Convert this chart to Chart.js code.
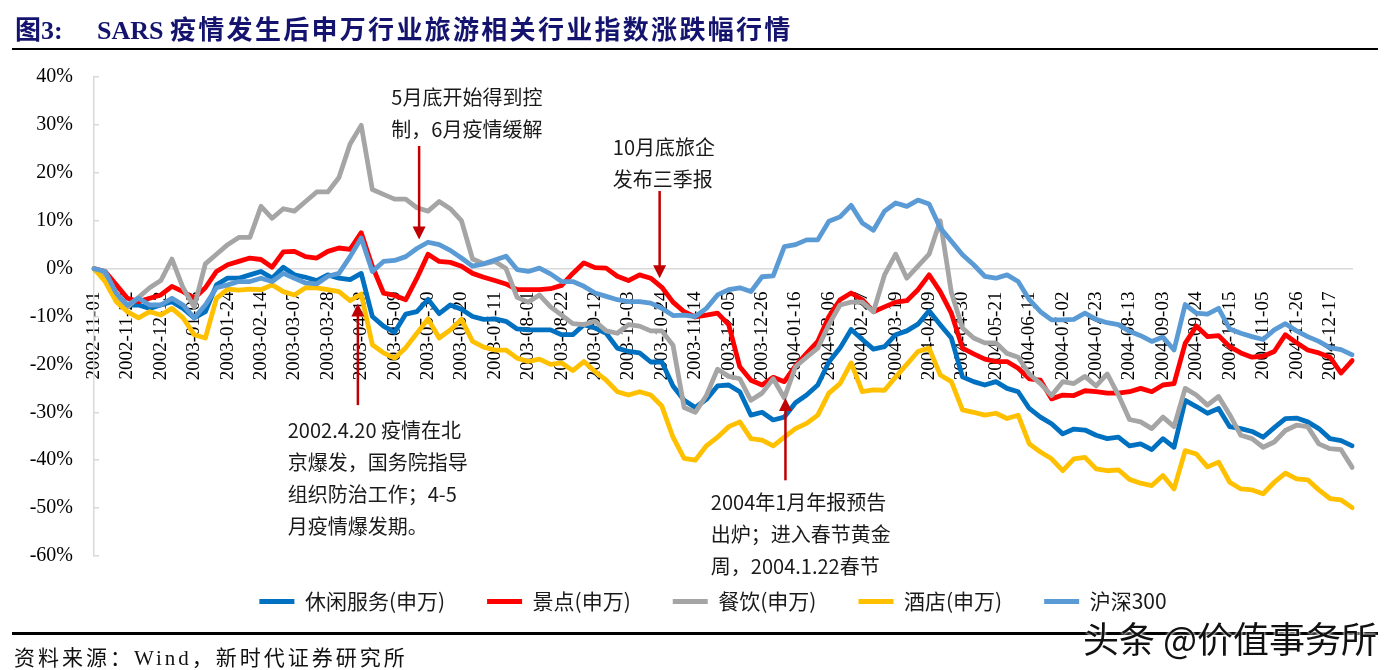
<!DOCTYPE html>
<html>
<head>
<meta charset="utf-8">
<script src="https://cdn.jsdelivr.net/npm/chart.js@4.4.1/dist/chart.umd.min.js"></script>
<style>
  body { margin: 0; width: 1390px; height: 670px; overflow: hidden; position: relative; background: #fff; }
  #c { position: absolute; left: 0; top: 0; }
  .rule { position: absolute; left: 12px; width: 1366px; background: #000; }
  #title { position: absolute; left: 15px; top: 14px; line-height: 34px; color: #14146e; font-weight: bold;
           font-family: "Liberation Serif", "Noto Sans CJK SC", serif; font-size: 26px; white-space: nowrap; }
  #title .t2 { position: absolute; left: 82px; top: 0; }
  #title .cjk { letter-spacing: 2.3px; }
  #src { position: absolute; left: 14px; top: 641px; font-family: "Liberation Serif", "Noto Sans CJK SC", serif;
         font-size: 21px; letter-spacing: 3px; color: #111; white-space: nowrap; }
  #wm { position: absolute; left: 1083px; top: 611px; font-family: "Noto Sans CJK SC", sans-serif; font-size: 36px;
        color: #111; white-space: nowrap; text-shadow: 0 0 3px #fff, 0 0 3px #fff; }
</style>
</head>
<body>
<canvas id="c" width="1390" height="670"></canvas>
<div id="title">图3:<span class="t2">SARS <span class="cjk">疫情发生后申万行业旅游相关行业指数涨跌幅行情</span></span></div>
<div class="rule" style="top:48px;height:2px"></div>
<div class="rule" style="top:632px;height:2.5px"></div>
<div id="src">资料来源：Wind，新时代证券研究所</div>
<div id="wm">头条 @价值事务所</div>
<script>
// weekly closes (Fridays), change vs 2002-11-01, %
const weeks = [
  '2002-11-01','2002-11-08','2002-11-15','2002-11-22','2002-11-29','2002-12-06','2002-12-13','2002-12-20','2002-12-27',
  '2003-01-03','2003-01-10','2003-01-17','2003-01-24','2003-01-31','2003-02-07','2003-02-14','2003-02-21','2003-02-28',
  '2003-03-07','2003-03-14','2003-03-21','2003-03-28','2003-04-04','2003-04-11','2003-04-18','2003-04-25','2003-05-02',
  '2003-05-09','2003-05-16','2003-05-23','2003-05-30','2003-06-06','2003-06-13','2003-06-20','2003-06-27','2003-07-04',
  '2003-07-11','2003-07-18','2003-07-25','2003-08-01','2003-08-08','2003-08-15','2003-08-22','2003-08-29','2003-09-05',
  '2003-09-12','2003-09-19','2003-09-26','2003-10-03','2003-10-10','2003-10-17','2003-10-24','2003-10-31','2003-11-07',
  '2003-11-14','2003-11-21','2003-11-28','2003-12-05','2003-12-12','2003-12-19','2003-12-26',
  '2004-01-02','2004-01-09','2004-01-16','2004-01-23','2004-01-30','2004-02-06','2004-02-13','2004-02-20','2004-02-27',
  '2004-03-05','2004-03-12','2004-03-19','2004-03-26','2004-04-02','2004-04-09','2004-04-16','2004-04-23','2004-04-30',
  '2004-05-07','2004-05-14','2004-05-21','2004-05-28','2004-06-04','2004-06-11','2004-06-18','2004-06-25','2004-07-02',
  '2004-07-09','2004-07-16','2004-07-23','2004-07-30','2004-08-06','2004-08-13','2004-08-20','2004-08-27','2004-09-03',
  '2004-09-10','2004-09-17','2004-09-24','2004-10-01','2004-10-08','2004-10-15','2004-10-22','2004-10-29','2004-11-05',
  '2004-11-12','2004-11-19','2004-11-26','2004-12-03','2004-12-10','2004-12-17','2004-12-24','2004-12-31'
];

const xiuxian = [
  0, -2, -6.2, -7.6, -7.6, -8.3, -7.6, -6.9, -8.3, -10.3,
  -9, -3.4, -2, -2, -1.3, -0.6, -2, 0.3, -1.3, -1.8,
  -2.5, -1.3, -2, -2.3, -1, -10, -12, -13.3, -9.5, -9,
  -6.4, -9.4, -7.6, -8.5, -10, -10.6, -10.5, -11, -12.6, -12.8,
  -12.8, -12.8, -13.8, -13.8, -11.7, -12.4, -13.5, -16.6, -17.3, -17.6,
  -19.5, -19.5, -24.5, -27.5, -29, -27.3, -24.5, -24.3, -25.7, -30.6,
  -30, -31.6, -31, -28, -26.4, -24.3, -19.5, -16.6, -12.7, -14.8,
  -16.8, -16.3, -13.8, -13, -11.6, -8.8, -11.7, -14.5, -22.6, -23.6,
  -24.3, -23.6, -25, -25.7, -29.2, -31, -32.4, -34.5, -33.5, -33.7,
  -34.8, -35.5, -35.2, -37, -36.6, -37.8, -35.5, -37.3, -27.5, -28.8,
  -30.2, -29.2, -33, -33.4, -34, -35.2, -33.2, -31.3, -31.2, -32,
  -33.4, -35.5, -35.9, -37
];
const jingdian = [
  0, -0.6, -3.4, -6.2, -6.9, -6.2, -5.5, -3.7, -4.8, -6.2,
  -4, -0.6, 0.8, 1.5, 2.2, 1.9, 0.3, 3.5, 3.6, 2.5,
  2.2, 3.6, 4.3, 4, 7.5, 0.5, -5.1, -5.6, -6.5, -2,
  3, 1.5, 1.3, 0.5, -1, -1.8, -2.5, -3.2, -4.4, -4.4,
  -4.4, -4.2, -3.5, -1, 1.2, 0.2, 0.1, -1.6, -2.5, -1.3,
  -2, -3.9, -7, -9, -10.1, -9.7, -9.3, -11.7, -20.5, -23.3,
  -24.3, -22.7, -23.6, -20.3, -17.7, -15.2, -10, -6.5, -5.1, -6.5,
  -9, -8, -7, -6.7, -4.4, -1.3, -4.8, -9.3, -16.6, -17.8,
  -18.9, -19.4, -19.4, -20.8, -23, -23.3, -27.2, -26.4, -26.5, -25.5,
  -25.7, -26, -26, -25.7, -25, -25.7, -24.3, -24, -15.6, -12,
  -14.2, -14, -16.3, -17.6, -18.5, -18.3, -17.3, -13.8, -15.5, -17,
  -17.6, -18.5, -21.8, -19.2
];
const canyin = [
  0, -1.5, -6, -8, -6, -4, -2.5, 2, -4, -8,
  1, 3, 5, 6.5, 6.5, 13, 10.5, 12.5, 12, 14,
  16, 16, 19, 26, 29.9, 16.5, 15.5, 14.5, 14.5, 12.7,
  12, 14, 12.5, 10, 2, 1, 1.5, 0, -6, -7,
  -5.5, -8, -9.7, -11.5, -11.7, -11, -13, -13.5, -11.7, -12,
  -13, -13, -16, -29, -30, -26.5, -21, -22.5, -23, -27.5,
  -26, -23, -27, -20.5, -18.5, -16.6, -11.7, -7.6, -7, -7,
  -9, -1.3, 3, -2, 0.5, 3, 10, -5, -12.4, -14.5,
  -15.5, -15.5, -17.7, -18.5, -22, -24, -26.5, -23.6, -24, -22.5,
  -24.5, -22, -26.4, -31.5, -32, -33.4, -31, -33, -25, -26.4,
  -28.5, -26.7, -30.5, -34.8, -35.5, -37.3, -36.2, -33.8, -32.7, -33,
  -36.6, -37.6, -37.8, -41.5
];
const jiudian = [
  0, -2.7, -6.9, -9, -10.3, -9, -9.7, -8.3, -10.3, -13.8,
  -14.5, -6.2, -4.3, -4.5, -4.3, -4.4, -3.4, -4.8, -5.5, -4,
  -4, -4.4, -4.8, -6.7, -5.3, -15.9, -17.6, -18.7, -16.5, -13.5,
  -10.5, -14.5, -12.8, -10.6, -15.2, -16.4, -17, -17, -18.7, -19.4,
  -18.9, -20, -19.7, -21.3, -19.4, -21.5, -23.3, -25.7, -26.4, -25.7,
  -26.4, -28.7, -35.2, -39.6, -40, -37, -35.2, -33, -32, -35.5,
  -35.8, -37, -35.2, -33.4, -32.3, -30.6, -26, -24, -19.7, -25.7,
  -25.3, -25.4, -22.6, -20, -17.3, -16.6, -22.2, -23.6, -29.5, -30,
  -30.6, -30.2, -31.3, -30.6, -36.6, -38.3, -39.7, -42.2, -39.7, -39.4,
  -41.8, -42.2, -42, -44, -44.8, -45.3, -43.2, -46, -38, -38.7,
  -41.4, -40.4, -44.6, -46, -46.2, -47, -44.6, -42.7, -43.9, -44.1,
  -46.2, -48, -48.3, -49.9
];
const hs300 = [
  0, -0.6, -5.1, -7.6, -6.2, -7.6, -7.6, -6.2, -7.6, -10.3,
  -7.6, -4, -3.4, -2.7, -2.7, -2, -2.7, -1, -2, -3,
  -3.2, -1.6, -1, 2.5, 6.4, -0.6, 1.5, 1.7, 2.5, 4.2,
  5.5, 5, 3.8, 2.2, 0.5, 1, 1.8, 2.6, -0.2, -0.6,
  0.1, -1.1, -2.7, -2.7, -3.7, -5.1, -5.8, -6.5, -6.9, -6.9,
  -7.2, -8.3, -9.8, -9.7, -10, -8.3, -5.5, -4.4, -4, -4.8,
  -1.7, -1.5, 4.6, 5, 6, 6, 9.9, 10.8, 13.2, 9.5,
  8, 12, 13.7, 13, 14.3, 13.5, 8.5, 5.7, 2.9, 0.8,
  -1.6, -2, -1.3, -2.7, -6.5, -9, -10.7, -10.7, -10.6, -9.3,
  -10.6, -11.3, -11.7, -13.1, -14, -15.2, -14.3, -17, -7.5, -9.3,
  -9.5, -8.3, -12.6, -13.5, -14.2, -14.8, -12.8, -11.5, -13, -14.2,
  -15.2, -16.5, -16.9, -18
];

// callouts: arrow at week index x, from -> to (%), text anchored at (tx, ty)
const notes = [
  { x: 23.7, from: -28.5, to: -7.3, tx: 17.4, ty: -33.7,
    lines: ['2002.4.20 疫情在北', '京爆发，国务院指导', '组织防治工作；4-5', '月疫情爆发期。'] },
  { x: 29.2, from: 25.6, to: 6.1, tx: 26.7, ty: 35.8,
    lines: ['5月底开始得到控', '制，6月疫情缓解'] },
  { x: 50.8, from: 16.2, to: -2.0, tx: 46.6, ty: 25.3,
    lines: ['10月底旅企', '发布三季报'] },
  { x: 62.1, from: -44.2, to: -27.0, tx: 55.4, ty: -48.8,
    lines: ['2004年1月年报预告', '出炉；进入春节黄金', '周，2004.1.22春节'] }
];

const notePlugin = {
  id: 'notes',
  afterLayout(chart) {
    // legend sits a little right of centre and close under the plot in the original
    chart.legend.left += 40;
    chart.legend.top -= 7;
  },
  afterDraw(chart) {
    const { ctx, scales: { x, y } } = chart;
    ctx.save();
    notes.forEach(n => {
      const px = x.getPixelForValue(n.x);
      const y0 = y.getPixelForValue(n.from);
      const y1 = y.getPixelForValue(n.to);
      const dir = Math.sign(y1 - y0);
      ctx.strokeStyle = '#C00000';
      ctx.fillStyle = '#C00000';
      ctx.lineWidth = 2.5;
      ctx.beginPath();
      ctx.moveTo(px, y0);
      ctx.lineTo(px, y1 - dir * 11);
      ctx.stroke();
      ctx.beginPath();
      ctx.moveTo(px, y1);
      ctx.lineTo(px - 6.5, y1 - dir * 13);
      ctx.lineTo(px + 6.5, y1 - dir * 13);
      ctx.closePath();
      ctx.fill();

      ctx.fillStyle = '#1a1a1a';
      ctx.font = '20px "Noto Sans CJK SC"';
      ctx.textAlign = 'left';
      ctx.textBaseline = 'middle';
      const tx = x.getPixelForValue(n.tx);
      const ty = y.getPixelForValue(n.ty);
      n.lines.forEach((s, i) => ctx.fillText(s, tx, ty + i * 32));
    });
    ctx.restore();
  }
};

const mk = (label, data, color, order) => ({
  label, data, order,
  borderColor: color,
  backgroundColor: color,
  borderWidth: 4.8,
  pointRadius: 0,
  tension: 0,
  borderJoinStyle: 'round',
  borderCapStyle: 'round'
});

new Chart(document.getElementById('c'), {
  type: 'line',
  data: {
    labels: weeks,
    datasets: [
      mk('休闲服务(申万)', xiuxian, '#0070C0', 5),
      mk('景点(申万)', jingdian, '#FF0000', 4),
      mk('餐饮(申万)', canyin, '#A5A5A5', 3),
      mk('酒店(申万)', jiudian, '#FFC000', 2),
      mk('沪深300', hs300, '#5B9BD5', 1)
    ]
  },
  options: {
    responsive: false,
    animation: false,
    devicePixelRatio: 1,
    layout: { padding: { left: 10, right: 14, top: 77, bottom: 41 } },
    plugins: {
      tooltip: { enabled: false },
      legend: {
        position: 'bottom',
        labels: {
          boxWidth: 35,
          boxHeight: 5,
          padding: 42,
          color: '#1a1a1a',
          font: { family: '"Noto Sans CJK SC"', size: 21 },
          generateLabels: ch => Chart.defaults.plugins.legend.labels.generateLabels(ch)
            .map(l => Object.assign(l, { lineWidth: 0 })),
          sort: (a, b) => a.datasetIndex - b.datasetIndex
        }
      }
    },
    scales: {
      x: {
        position: { y: 0 },
        z: 1,
        grid: { display: false },
        border: { color: '#d9d9d9', width: 1.5 },
        ticks: {
          autoSkip: false,
          maxRotation: 90,
          minRotation: 90,
          padding: 15,
          color: '#000',
          font: { family: '"Liberation Serif"', size: 19 },
          callback: (v, i) => (i % 3 === 0 ? weeks[i] : '')
        }
      },
      y: {
        min: -60,
        max: 40,
        afterFit: s => { s.width = 84; },
        grid: { drawOnChartArea: false, tickLength: -5, color: '#d9d9d9', lineWidth: 1.5 },
        border: { color: '#d9d9d9', width: 1.5 },
        ticks: {
          stepSize: 10,
          padding: 26,
          color: '#000',
          font: { family: '"Liberation Serif"', size: 20 },
          callback: v => v + '%'
        }
      }
    }
  },
  plugins: [notePlugin]
});
</script>
</body>
</html>
